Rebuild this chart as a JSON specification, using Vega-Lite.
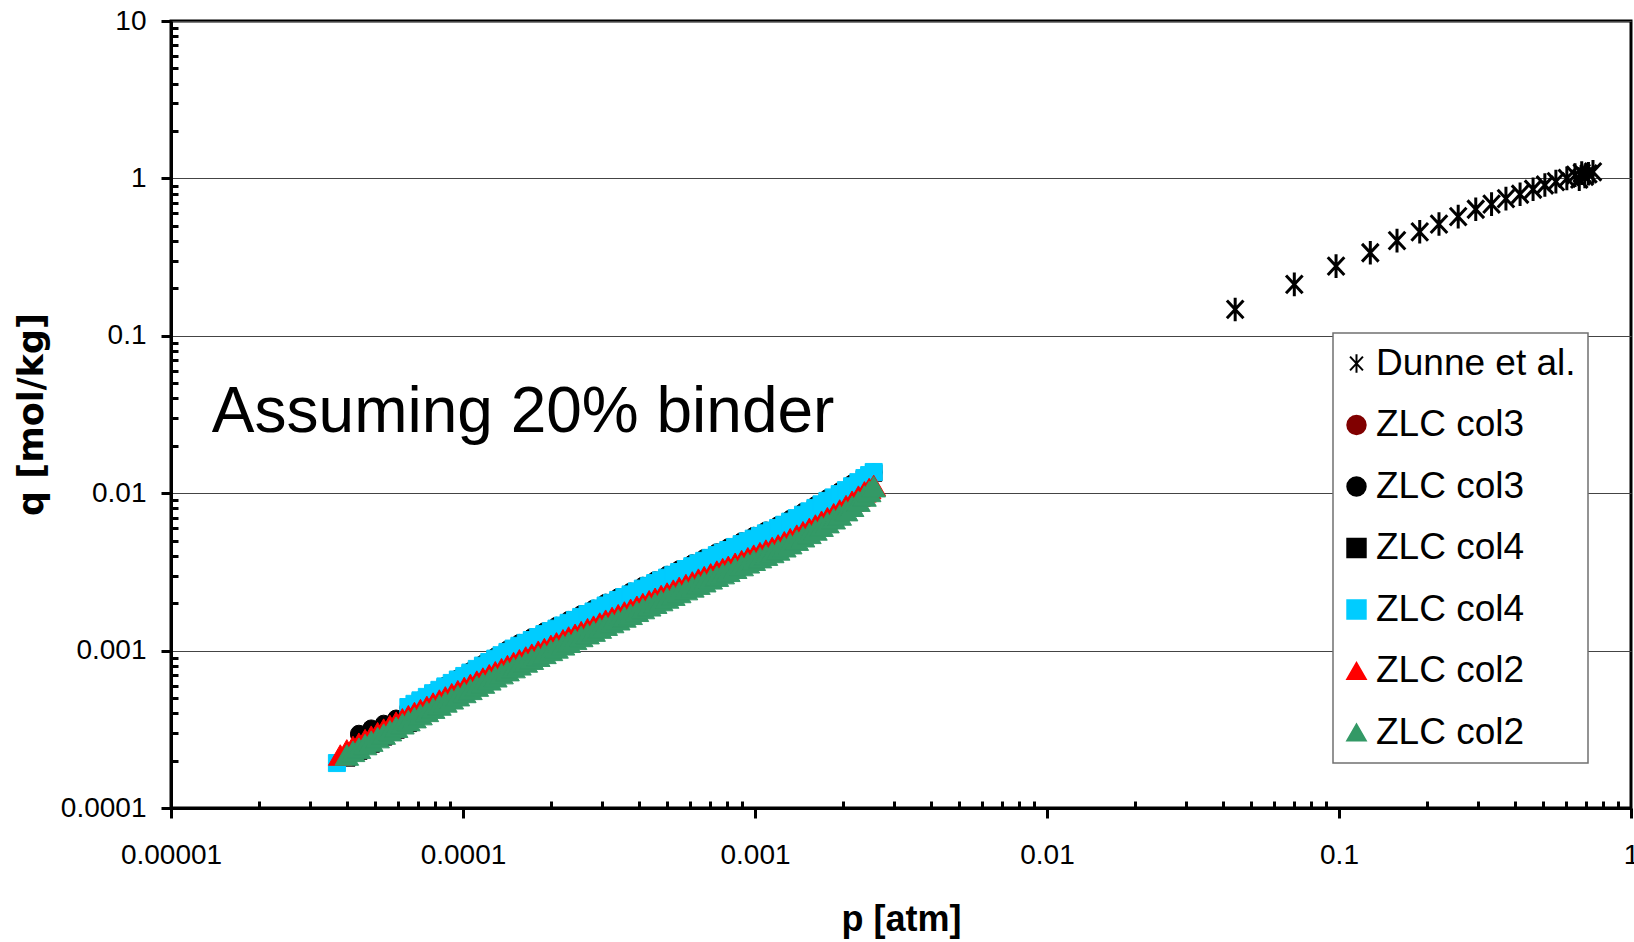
{
  "$schema": "https://vega.github.io/schema/vega-lite/v6.json",
  "width": 1460,
  "height": 787,
  "autosize": "none",
  "padding": {"left": 171, "top": 21, "right": 3, "bottom": 134},
  "background": "white",
  "config": {
    "view": {"stroke": "black", "strokeWidth": 3},
    "axis": {
      "domainColor": "black", "domainWidth": 3, "tickColor": "black", "tickWidth": 3,
      "labelFont": "Liberation Sans", "labelFontSize": 28, "labelColor": "black",
      "labelFlush": false, "labelOverlap": false, "labelBound": false
    },
    "legend": {
      "padding": 12,
      "fillColor": "white", "strokeColor": "#707070", "strokeWidth": 1.5,
      "labelFont": "Liberation Sans", "labelFontSize": 37, "labelColor": "black", "labelLimit": 400,
      "symbolSize": 340, "symbolStrokeWidth": 2, "rowPadding": 23.5, "labelOffset": 1, "symbolOffset": -7
    }
  },
  "resolve": {"axis": {"x": "independent", "y": "independent"}},
  "layer": [
    {
      "data": {"values": [
        {"s":"Dunne et al.","p":0.0441,"q":0.147},
        {"s":"Dunne et al.","p":0.0703,"q":0.212},
        {"s":"Dunne et al.","p":0.0977,"q":0.277},
        {"s":"Dunne et al.","p":0.128,"q":0.337},
        {"s":"Dunne et al.","p":0.158,"q":0.402},
        {"s":"Dunne et al.","p":0.189,"q":0.458},
        {"s":"Dunne et al.","p":0.220,"q":0.513},
        {"s":"Dunne et al.","p":0.256,"q":0.571},
        {"s":"Dunne et al.","p":0.294,"q":0.637},
        {"s":"Dunne et al.","p":0.333,"q":0.687},
        {"s":"Dunne et al.","p":0.373,"q":0.743},
        {"s":"Dunne et al.","p":0.417,"q":0.793},
        {"s":"Dunne et al.","p":0.462,"q":0.853},
        {"s":"Dunne et al.","p":0.507,"q":0.908},
        {"s":"Dunne et al.","p":0.553,"q":0.953},
        {"s":"Dunne et al.","p":0.603,"q":1.00},
        {"s":"Dunne et al.","p":0.643,"q":1.05},
        {"s":"Dunne et al.","p":0.665,"q":0.99},
        {"s":"Dunne et al.","p":0.678,"q":1.08},
        {"s":"Dunne et al.","p":0.695,"q":1.03},
        {"s":"Dunne et al.","p":0.715,"q":1.07},
        {"s":"Dunne et al.","p":0.741,"q":1.10},

        {"s":"ZLC col3 a","p":4.4e-5,"q":2.91e-4},
        {"s":"ZLC col3 a","p":4.85e-5,"q":3.15e-4},
        {"s":"ZLC col3 a","p":5.35e-5,"q":3.37e-4},
        {"s":"ZLC col3 a","p":5.9e-5,"q":3.64e-4},
        {"s":"ZLC col3 a","p":6.5e-5,"q":4.29e-4},
        {"s":"ZLC col3 a","p":7.9e-5,"q":5.30e-4},
        {"s":"ZLC col3 a","p":9.6e-5,"q":6.55e-4},
        {"s":"ZLC col3 a","p":1.17e-4,"q":8.10e-4},
        {"s":"ZLC col3 a","p":1.42e-4,"q":1.000e-3},
        {"s":"ZLC col3 a","p":1.72e-4,"q":1.196e-3},
        {"s":"ZLC col3 a","p":2.09e-4,"q":1.412e-3},
        {"s":"ZLC col3 a","p":2.54e-4,"q":1.676e-3},
        {"s":"ZLC col3 a","p":3.08e-4,"q":1.981e-3},
        {"s":"ZLC col3 a","p":3.75e-4,"q":2.329e-3},
        {"s":"ZLC col3 a","p":4.55e-4,"q":2.749e-3},
        {"s":"ZLC col3 a","p":5.5e-4,"q":3.233e-3},
        {"s":"ZLC col3 a","p":6.7e-4,"q":3.807e-3},
        {"s":"ZLC col3 a","p":8.1e-4,"q":4.456e-3},
        {"s":"ZLC col3 a","p":9.9e-4,"q":5.269e-3},
        {"s":"ZLC col3 a","p":1.2e-3,"q":6.157e-3},
        {"s":"ZLC col3 a","p":1.46e-3,"q":7.476e-3},
        {"s":"ZLC col3 a","p":1.77e-3,"q":9.146e-3},
        {"s":"ZLC col3 a","p":2.15e-3,"q":1.134e-2},
        {"s":"ZLC col3 a","p":2.37e-3,"q":1.25e-2},

        {"s":"ZLC col3 b","p":4.4e-5,"q":2.97e-4},
        {"s":"ZLC col3 b","p":4.85e-5,"q":3.21e-4},
        {"s":"ZLC col3 b","p":5.35e-5,"q":3.44e-4},
        {"s":"ZLC col3 b","p":5.9e-5,"q":3.71e-4},
        {"s":"ZLC col3 b","p":6.5e-5,"q":4.38e-4},
        {"s":"ZLC col3 b","p":7.15e-5,"q":4.85e-4},
        {"s":"ZLC col3 b","p":7.9e-5,"q":5.41e-4},
        {"s":"ZLC col3 b","p":8.7e-5,"q":6.01e-4},
        {"s":"ZLC col3 b","p":9.6e-5,"q":6.68e-4},
        {"s":"ZLC col3 b","p":1.06e-4,"q":7.43e-4},
        {"s":"ZLC col3 b","p":1.17e-4,"q":8.27e-4},
        {"s":"ZLC col3 b","p":1.29e-4,"q":9.20e-4},
        {"s":"ZLC col3 b","p":1.42e-4,"q":1.020e-3},
        {"s":"ZLC col3 b","p":1.56e-4,"q":1.121e-3},
        {"s":"ZLC col3 b","p":1.72e-4,"q":1.220e-3},
        {"s":"ZLC col3 b","p":1.9e-4,"q":1.329e-3},
        {"s":"ZLC col3 b","p":2.09e-4,"q":1.441e-3},
        {"s":"ZLC col3 b","p":2.3e-4,"q":1.569e-3},
        {"s":"ZLC col3 b","p":2.54e-4,"q":1.710e-3},
        {"s":"ZLC col3 b","p":2.8e-4,"q":1.852e-3},
        {"s":"ZLC col3 b","p":3.08e-4,"q":2.021e-3},
        {"s":"ZLC col3 b","p":3.4e-4,"q":2.192e-3},
        {"s":"ZLC col3 b","p":3.75e-4,"q":2.377e-3},
        {"s":"ZLC col3 b","p":4.13e-4,"q":2.588e-3},
        {"s":"ZLC col3 b","p":4.55e-4,"q":2.805e-3},
        {"s":"ZLC col3 b","p":5.0e-4,"q":3.038e-3},
        {"s":"ZLC col3 b","p":5.5e-4,"q":3.299e-3},
        {"s":"ZLC col3 b","p":6.1e-4,"q":3.592e-3},
        {"s":"ZLC col3 b","p":6.7e-4,"q":3.885e-3},
        {"s":"ZLC col3 b","p":7.4e-4,"q":4.224e-3},
        {"s":"ZLC col3 b","p":8.1e-4,"q":4.547e-3},
        {"s":"ZLC col3 b","p":9.0e-4,"q":4.961e-3},
        {"s":"ZLC col3 b","p":9.9e-4,"q":5.377e-3},
        {"s":"ZLC col3 b","p":1.09e-3,"q":5.809e-3},
        {"s":"ZLC col3 b","p":1.2e-3,"q":6.283e-3},
        {"s":"ZLC col3 b","p":1.32e-3,"q":6.893e-3},
        {"s":"ZLC col3 b","p":1.46e-3,"q":7.629e-3},
        {"s":"ZLC col3 b","p":1.61e-3,"q":8.422e-3},
        {"s":"ZLC col3 b","p":1.77e-3,"q":9.333e-3},
        {"s":"ZLC col3 b","p":1.95e-3,"q":1.031e-2},
        {"s":"ZLC col3 b","p":2.15e-3,"q":1.157e-2},
        {"s":"ZLC col3 b","p":2.37e-3,"q":1.273e-2},
        {"s":"ZLC col3 b","p":2.55e-3,"q":1.36e-2},

        {"s":"ZLC col4 a","p":4.0e-5,"q":2.08e-4},
        {"s":"ZLC col4 a","p":4.4e-5,"q":2.30e-4},
        {"s":"ZLC col4 a","p":4.85e-5,"q":2.55e-4},
        {"s":"ZLC col4 a","p":5.35e-5,"q":2.83e-4},
        {"s":"ZLC col4 a","p":5.9e-5,"q":3.13e-4},
        {"s":"ZLC col4 a","p":6.5e-5,"q":3.45e-4},
        {"s":"ZLC col4 a","p":7.15e-5,"q":4.76e-4},
        {"s":"ZLC col4 a","p":7.9e-5,"q":5.28e-4},
        {"s":"ZLC col4 a","p":8.7e-5,"q":5.83e-4},
        {"s":"ZLC col4 a","p":9.6e-5,"q":6.45e-4},
        {"s":"ZLC col4 a","p":1.06e-4,"q":7.14e-4},
        {"s":"ZLC col4 a","p":1.17e-4,"q":7.91e-4},
        {"s":"ZLC col4 a","p":1.29e-4,"q":8.76e-4},
        {"s":"ZLC col4 a","p":1.42e-4,"q":9.66e-4},
        {"s":"ZLC col4 a","p":1.56e-4,"q":1.057e-3},
        {"s":"ZLC col4 a","p":1.72e-4,"q":1.149e-3},
        {"s":"ZLC col4 a","p":1.9e-4,"q":1.253e-3},
        {"s":"ZLC col4 a","p":2.09e-4,"q":1.358e-3},
        {"s":"ZLC col4 a","p":2.3e-4,"q":1.478e-3},
        {"s":"ZLC col4 a","p":2.54e-4,"q":1.611e-3},
        {"s":"ZLC col4 a","p":2.8e-4,"q":1.745e-3},
        {"s":"ZLC col4 a","p":3.08e-4,"q":1.905e-3},
        {"s":"ZLC col4 a","p":3.4e-4,"q":2.067e-3},
        {"s":"ZLC col4 a","p":3.75e-4,"q":2.241e-3},
        {"s":"ZLC col4 a","p":4.13e-4,"q":2.440e-3},
        {"s":"ZLC col4 a","p":4.55e-4,"q":2.644e-3},
        {"s":"ZLC col4 a","p":5.0e-4,"q":2.863e-3},
        {"s":"ZLC col4 a","p":5.5e-4,"q":3.110e-3},
        {"s":"ZLC col4 a","p":6.1e-4,"q":3.385e-3},
        {"s":"ZLC col4 a","p":6.7e-4,"q":3.662e-3},
        {"s":"ZLC col4 a","p":7.4e-4,"q":3.981e-3},
        {"s":"ZLC col4 a","p":8.1e-4,"q":4.286e-3},
        {"s":"ZLC col4 a","p":9.0e-4,"q":4.676e-3},
        {"s":"ZLC col4 a","p":9.9e-4,"q":5.068e-3},
        {"s":"ZLC col4 a","p":1.09e-3,"q":5.476e-3},
        {"s":"ZLC col4 a","p":1.2e-3,"q":5.922e-3},
        {"s":"ZLC col4 a","p":1.32e-3,"q":6.497e-3},
        {"s":"ZLC col4 a","p":1.46e-3,"q":7.191e-3},
        {"s":"ZLC col4 a","p":1.61e-3,"q":7.938e-3},
        {"s":"ZLC col4 a","p":1.77e-3,"q":8.797e-3},
        {"s":"ZLC col4 a","p":1.95e-3,"q":9.717e-3},
        {"s":"ZLC col4 a","p":2.15e-3,"q":1.090e-2},
        {"s":"ZLC col4 a","p":2.37e-3,"q":1.229e-2},
        {"s":"ZLC col4 a","p":2.55e-3,"q":1.344e-2},

        {"s":"ZLC col4 b","p":3.7e-5,"q":1.93e-4},
        {"s":"ZLC col4 b","p":6.5e-5,"q":4.38e-4},
        {"s":"ZLC col4 b","p":6.82e-5,"q":4.59e-4},
        {"s":"ZLC col4 b","p":7.15e-5,"q":4.83e-4},
        {"s":"ZLC col4 b","p":7.52e-5,"q":5.08e-4},
        {"s":"ZLC col4 b","p":7.9e-5,"q":5.36e-4},
        {"s":"ZLC col4 b","p":8.3e-5,"q":5.63e-4},
        {"s":"ZLC col4 b","p":8.7e-5,"q":5.92e-4},
        {"s":"ZLC col4 b","p":9.15e-5,"q":6.23e-4},
        {"s":"ZLC col4 b","p":9.6e-5,"q":6.55e-4},
        {"s":"ZLC col4 b","p":1.01e-4,"q":6.90e-4},
        {"s":"ZLC col4 b","p":1.06e-4,"q":7.25e-4},
        {"s":"ZLC col4 b","p":1.115e-4,"q":7.65e-4},
        {"s":"ZLC col4 b","p":1.17e-4,"q":8.03e-4},
        {"s":"ZLC col4 b","p":1.23e-4,"q":8.46e-4},
        {"s":"ZLC col4 b","p":1.29e-4,"q":8.89e-4},
        {"s":"ZLC col4 b","p":1.355e-4,"q":9.35e-4},
        {"s":"ZLC col4 b","p":1.42e-4,"q":9.81e-4},
        {"s":"ZLC col4 b","p":1.49e-4,"q":1.030e-3},
        {"s":"ZLC col4 b","p":1.56e-4,"q":1.073e-3},
        {"s":"ZLC col4 b","p":1.64e-4,"q":1.120e-3},
        {"s":"ZLC col4 b","p":1.72e-4,"q":1.167e-3},
        {"s":"ZLC col4 b","p":1.81e-4,"q":1.219e-3},
        {"s":"ZLC col4 b","p":1.9e-4,"q":1.272e-3},
        {"s":"ZLC col4 b","p":2.0e-4,"q":1.329e-3},
        {"s":"ZLC col4 b","p":2.09e-4,"q":1.379e-3},
        {"s":"ZLC col4 b","p":2.2e-4,"q":1.444e-3},
        {"s":"ZLC col4 b","p":2.3e-4,"q":1.501e-3},
        {"s":"ZLC col4 b","p":2.42e-4,"q":1.567e-3},
        {"s":"ZLC col4 b","p":2.54e-4,"q":1.636e-3},
        {"s":"ZLC col4 b","p":2.67e-4,"q":1.705e-3},
        {"s":"ZLC col4 b","p":2.8e-4,"q":1.772e-3},
        {"s":"ZLC col4 b","p":2.94e-4,"q":1.853e-3},
        {"s":"ZLC col4 b","p":3.08e-4,"q":1.934e-3},
        {"s":"ZLC col4 b","p":3.24e-4,"q":2.013e-3},
        {"s":"ZLC col4 b","p":3.4e-4,"q":2.098e-3},
        {"s":"ZLC col4 b","p":3.57e-4,"q":2.187e-3},
        {"s":"ZLC col4 b","p":3.75e-4,"q":2.275e-3},
        {"s":"ZLC col4 b","p":3.94e-4,"q":2.379e-3},
        {"s":"ZLC col4 b","p":4.13e-4,"q":2.477e-3},
        {"s":"ZLC col4 b","p":4.34e-4,"q":2.581e-3},
        {"s":"ZLC col4 b","p":4.55e-4,"q":2.684e-3},
        {"s":"ZLC col4 b","p":4.77e-4,"q":2.796e-3},
        {"s":"ZLC col4 b","p":5.0e-4,"q":2.907e-3},
        {"s":"ZLC col4 b","p":5.25e-4,"q":3.033e-3},
        {"s":"ZLC col4 b","p":5.5e-4,"q":3.157e-3},
        {"s":"ZLC col4 b","p":5.8e-4,"q":3.298e-3},
        {"s":"ZLC col4 b","p":6.1e-4,"q":3.437e-3},
        {"s":"ZLC col4 b","p":6.4e-4,"q":3.581e-3},
        {"s":"ZLC col4 b","p":6.7e-4,"q":3.718e-3},
        {"s":"ZLC col4 b","p":7.05e-4,"q":3.883e-3},
        {"s":"ZLC col4 b","p":7.4e-4,"q":4.042e-3},
        {"s":"ZLC col4 b","p":7.75e-4,"q":4.200e-3},
        {"s":"ZLC col4 b","p":8.1e-4,"q":4.351e-3},
        {"s":"ZLC col4 b","p":8.55e-4,"q":4.556e-3},
        {"s":"ZLC col4 b","p":9.0e-4,"q":4.747e-3},
        {"s":"ZLC col4 b","p":9.45e-4,"q":4.948e-3},
        {"s":"ZLC col4 b","p":9.9e-4,"q":5.145e-3},
        {"s":"ZLC col4 b","p":1.04e-3,"q":5.353e-3},
        {"s":"ZLC col4 b","p":1.09e-3,"q":5.559e-3},
        {"s":"ZLC col4 b","p":1.145e-3,"q":5.789e-3},
        {"s":"ZLC col4 b","p":1.2e-3,"q":6.012e-3},
        {"s":"ZLC col4 b","p":1.26e-3,"q":6.304e-3},
        {"s":"ZLC col4 b","p":1.32e-3,"q":6.596e-3},
        {"s":"ZLC col4 b","p":1.39e-3,"q":6.944e-3},
        {"s":"ZLC col4 b","p":1.46e-3,"q":7.300e-3},
        {"s":"ZLC col4 b","p":1.535e-3,"q":7.669e-3},
        {"s":"ZLC col4 b","p":1.61e-3,"q":8.059e-3},
        {"s":"ZLC col4 b","p":1.69e-3,"q":8.501e-3},
        {"s":"ZLC col4 b","p":1.77e-3,"q":8.931e-3},
        {"s":"ZLC col4 b","p":1.86e-3,"q":9.401e-3},
        {"s":"ZLC col4 b","p":1.95e-3,"q":9.865e-3},
        {"s":"ZLC col4 b","p":2.05e-3,"q":1.046e-2},
        {"s":"ZLC col4 b","p":2.15e-3,"q":1.107e-2},
        {"s":"ZLC col4 b","p":2.26e-3,"q":1.175e-2},
        {"s":"ZLC col4 b","p":2.37e-3,"q":1.248e-2},
        {"s":"ZLC col4 b","p":2.46e-3,"q":1.303e-2},
        {"s":"ZLC col4 b","p":2.55e-3,"q":1.364e-2},

        {"s":"ZLC col2 a","p":3.8e-5,"q":2.17e-4},
        {"s":"ZLC col2 a","p":4.0e-5,"q":2.34e-4},
        {"s":"ZLC col2 a","p":4.2e-5,"q":2.46e-4},
        {"s":"ZLC col2 a","p":4.4e-5,"q":2.58e-4},
        {"s":"ZLC col2 a","p":4.62e-5,"q":2.72e-4},
        {"s":"ZLC col2 a","p":4.85e-5,"q":2.86e-4},
        {"s":"ZLC col2 a","p":5.1e-5,"q":3.01e-4},
        {"s":"ZLC col2 a","p":5.35e-5,"q":3.17e-4},
        {"s":"ZLC col2 a","p":5.62e-5,"q":3.34e-4},
        {"s":"ZLC col2 a","p":5.9e-5,"q":3.51e-4},
        {"s":"ZLC col2 a","p":6.2e-5,"q":3.69e-4},
        {"s":"ZLC col2 a","p":6.5e-5,"q":3.86e-4},
        {"s":"ZLC col2 a","p":6.82e-5,"q":4.04e-4},
        {"s":"ZLC col2 a","p":7.15e-5,"q":4.22e-4},
        {"s":"ZLC col2 a","p":7.52e-5,"q":4.42e-4},
        {"s":"ZLC col2 a","p":7.9e-5,"q":4.64e-4},
        {"s":"ZLC col2 a","p":8.3e-5,"q":4.85e-4},
        {"s":"ZLC col2 a","p":8.7e-5,"q":5.08e-4},
        {"s":"ZLC col2 a","p":9.15e-5,"q":5.32e-4},
        {"s":"ZLC col2 a","p":9.6e-5,"q":5.56e-4},
        {"s":"ZLC col2 a","p":1.01e-4,"q":5.83e-4},
        {"s":"ZLC col2 a","p":1.06e-4,"q":6.10e-4},
        {"s":"ZLC col2 a","p":1.115e-4,"q":6.40e-4},
        {"s":"ZLC col2 a","p":1.17e-4,"q":6.69e-4},
        {"s":"ZLC col2 a","p":1.23e-4,"q":7.02e-4},
        {"s":"ZLC col2 a","p":1.29e-4,"q":7.34e-4},
        {"s":"ZLC col2 a","p":1.355e-4,"q":7.68e-4},
        {"s":"ZLC col2 a","p":1.42e-4,"q":8.03e-4},
        {"s":"ZLC col2 a","p":1.49e-4,"q":8.39e-4},
        {"s":"ZLC col2 a","p":1.56e-4,"q":8.74e-4},
        {"s":"ZLC col2 a","p":1.64e-4,"q":9.11e-4},
        {"s":"ZLC col2 a","p":1.72e-4,"q":9.49e-4},
        {"s":"ZLC col2 a","p":1.81e-4,"q":9.91e-4},
        {"s":"ZLC col2 a","p":1.9e-4,"q":1.03e-3},
        {"s":"ZLC col2 a","p":2.0e-4,"q":1.079e-3},
        {"s":"ZLC col2 a","p":2.09e-4,"q":1.12e-3},
        {"s":"ZLC col2 a","p":2.2e-4,"q":1.171e-3},
        {"s":"ZLC col2 a","p":2.3e-4,"q":1.22e-3},
        {"s":"ZLC col2 a","p":2.42e-4,"q":1.269e-3},
        {"s":"ZLC col2 a","p":2.54e-4,"q":1.32e-3},
        {"s":"ZLC col2 a","p":2.67e-4,"q":1.378e-3},
        {"s":"ZLC col2 a","p":2.8e-4,"q":1.43e-3},
        {"s":"ZLC col2 a","p":2.94e-4,"q":1.496e-3},
        {"s":"ZLC col2 a","p":3.08e-4,"q":1.56e-3},
        {"s":"ZLC col2 a","p":3.24e-4,"q":1.623e-3},
        {"s":"ZLC col2 a","p":3.4e-4,"q":1.69e-3},
        {"s":"ZLC col2 a","p":3.57e-4,"q":1.760e-3},
        {"s":"ZLC col2 a","p":3.75e-4,"q":1.83e-3},
        {"s":"ZLC col2 a","p":3.94e-4,"q":1.912e-3},
        {"s":"ZLC col2 a","p":4.13e-4,"q":1.99e-3},
        {"s":"ZLC col2 a","p":4.34e-4,"q":2.072e-3},
        {"s":"ZLC col2 a","p":4.55e-4,"q":2.15e-3},
        {"s":"ZLC col2 a","p":4.77e-4,"q":2.238e-3},
        {"s":"ZLC col2 a","p":5.0e-4,"q":2.32e-3},
        {"s":"ZLC col2 a","p":5.25e-4,"q":2.421e-3},
        {"s":"ZLC col2 a","p":5.5e-4,"q":2.52e-3},
        {"s":"ZLC col2 a","p":5.8e-4,"q":2.627e-3},
        {"s":"ZLC col2 a","p":6.1e-4,"q":2.73e-3},
        {"s":"ZLC col2 a","p":6.4e-4,"q":2.844e-3},
        {"s":"ZLC col2 a","p":6.7e-4,"q":2.95e-3},
        {"s":"ZLC col2 a","p":7.05e-4,"q":3.074e-3},
        {"s":"ZLC col2 a","p":7.4e-4,"q":3.20e-3},
        {"s":"ZLC col2 a","p":7.75e-4,"q":3.318e-3},
        {"s":"ZLC col2 a","p":8.1e-4,"q":3.43e-3},
        {"s":"ZLC col2 a","p":8.55e-4,"q":3.588e-3},
        {"s":"ZLC col2 a","p":9.0e-4,"q":3.73e-3},
        {"s":"ZLC col2 a","p":9.45e-4,"q":3.887e-3},
        {"s":"ZLC col2 a","p":9.9e-4,"q":4.04e-3},
        {"s":"ZLC col2 a","p":1.04e-3,"q":4.192e-3},
        {"s":"ZLC col2 a","p":1.09e-3,"q":4.35e-3},
        {"s":"ZLC col2 a","p":1.145e-3,"q":4.520e-3},
        {"s":"ZLC col2 a","p":1.2e-3,"q":4.69e-3},
        {"s":"ZLC col2 a","p":1.26e-3,"q":4.915e-3},
        {"s":"ZLC col2 a","p":1.32e-3,"q":5.14e-3},
        {"s":"ZLC col2 a","p":1.39e-3,"q":5.414e-3},
        {"s":"ZLC col2 a","p":1.46e-3,"q":5.69e-3},
        {"s":"ZLC col2 a","p":1.535e-3,"q":5.979e-3},
        {"s":"ZLC col2 a","p":1.61e-3,"q":6.28e-3},
        {"s":"ZLC col2 a","p":1.69e-3,"q":6.638e-3},
        {"s":"ZLC col2 a","p":1.77e-3,"q":6.99e-3},
        {"s":"ZLC col2 a","p":1.86e-3,"q":7.405e-3},
        {"s":"ZLC col2 a","p":1.95e-3,"q":7.82e-3},
        {"s":"ZLC col2 a","p":2.05e-3,"q":8.338e-3},
        {"s":"ZLC col2 a","p":2.15e-3,"q":8.89e-3},
        {"s":"ZLC col2 a","p":2.26e-3,"q":9.581e-3},
        {"s":"ZLC col2 a","p":2.37e-3,"q":1.02e-2},
        {"s":"ZLC col2 a","p":2.46e-3,"q":1.07e-2},
        {"s":"ZLC col2 a","p":2.55e-3,"q":1.12e-2},

        {"s":"ZLC col2 b","p":4.0e-5,"q":2.17e-4},
        {"s":"ZLC col2 b","p":4.2e-5,"q":2.29e-4},
        {"s":"ZLC col2 b","p":4.4e-5,"q":2.40e-4},
        {"s":"ZLC col2 b","p":4.62e-5,"q":2.53e-4},
        {"s":"ZLC col2 b","p":4.85e-5,"q":2.66e-4},
        {"s":"ZLC col2 b","p":5.1e-5,"q":2.80e-4},
        {"s":"ZLC col2 b","p":5.35e-5,"q":2.95e-4},
        {"s":"ZLC col2 b","p":5.62e-5,"q":3.10e-4},
        {"s":"ZLC col2 b","p":5.9e-5,"q":3.26e-4},
        {"s":"ZLC col2 b","p":6.2e-5,"q":3.43e-4},
        {"s":"ZLC col2 b","p":6.5e-5,"q":3.59e-4},
        {"s":"ZLC col2 b","p":6.82e-5,"q":3.75e-4},
        {"s":"ZLC col2 b","p":7.15e-5,"q":3.92e-4},
        {"s":"ZLC col2 b","p":7.52e-5,"q":4.11e-4},
        {"s":"ZLC col2 b","p":7.9e-5,"q":4.31e-4},
        {"s":"ZLC col2 b","p":8.3e-5,"q":4.51e-4},
        {"s":"ZLC col2 b","p":8.7e-5,"q":4.72e-4},
        {"s":"ZLC col2 b","p":9.15e-5,"q":4.94e-4},
        {"s":"ZLC col2 b","p":9.6e-5,"q":5.17e-4},
        {"s":"ZLC col2 b","p":1.01e-4,"q":5.42e-4},
        {"s":"ZLC col2 b","p":1.06e-4,"q":5.67e-4},
        {"s":"ZLC col2 b","p":1.115e-4,"q":5.95e-4},
        {"s":"ZLC col2 b","p":1.17e-4,"q":6.22e-4},
        {"s":"ZLC col2 b","p":1.23e-4,"q":6.52e-4},
        {"s":"ZLC col2 b","p":1.29e-4,"q":6.82e-4},
        {"s":"ZLC col2 b","p":1.355e-4,"q":7.14e-4},
        {"s":"ZLC col2 b","p":1.42e-4,"q":7.46e-4},
        {"s":"ZLC col2 b","p":1.49e-4,"q":7.80e-4},
        {"s":"ZLC col2 b","p":1.56e-4,"q":8.12e-4},
        {"s":"ZLC col2 b","p":1.64e-4,"q":8.47e-4},
        {"s":"ZLC col2 b","p":1.72e-4,"q":8.82e-4},
        {"s":"ZLC col2 b","p":1.81e-4,"q":9.21e-4},
        {"s":"ZLC col2 b","p":1.9e-4,"q":9.60e-4},
        {"s":"ZLC col2 b","p":2.0e-4,"q":1.003e-3},
        {"s":"ZLC col2 b","p":2.09e-4,"q":1.04e-3},
        {"s":"ZLC col2 b","p":2.2e-4,"q":1.088e-3},
        {"s":"ZLC col2 b","p":2.3e-4,"q":1.13e-3},
        {"s":"ZLC col2 b","p":2.42e-4,"q":1.179e-3},
        {"s":"ZLC col2 b","p":2.54e-4,"q":1.23e-3},
        {"s":"ZLC col2 b","p":2.67e-4,"q":1.281e-3},
        {"s":"ZLC col2 b","p":2.8e-4,"q":1.33e-3},
        {"s":"ZLC col2 b","p":2.94e-4,"q":1.390e-3},
        {"s":"ZLC col2 b","p":3.08e-4,"q":1.45e-3},
        {"s":"ZLC col2 b","p":3.24e-4,"q":1.508e-3},
        {"s":"ZLC col2 b","p":3.4e-4,"q":1.57e-3},
        {"s":"ZLC col2 b","p":3.57e-4,"q":1.636e-3},
        {"s":"ZLC col2 b","p":3.75e-4,"q":1.70e-3},
        {"s":"ZLC col2 b","p":3.94e-4,"q":1.777e-3},
        {"s":"ZLC col2 b","p":4.13e-4,"q":1.85e-3},
        {"s":"ZLC col2 b","p":4.34e-4,"q":1.926e-3},
        {"s":"ZLC col2 b","p":4.55e-4,"q":2.00e-3},
        {"s":"ZLC col2 b","p":4.77e-4,"q":2.080e-3},
        {"s":"ZLC col2 b","p":5.0e-4,"q":2.16e-3},
        {"s":"ZLC col2 b","p":5.25e-4,"q":2.250e-3},
        {"s":"ZLC col2 b","p":5.5e-4,"q":2.34e-3},
        {"s":"ZLC col2 b","p":5.8e-4,"q":2.441e-3},
        {"s":"ZLC col2 b","p":6.1e-4,"q":2.54e-3},
        {"s":"ZLC col2 b","p":6.4e-4,"q":2.643e-3},
        {"s":"ZLC col2 b","p":6.7e-4,"q":2.74e-3},
        {"s":"ZLC col2 b","p":7.05e-4,"q":2.857e-3},
        {"s":"ZLC col2 b","p":7.4e-4,"q":2.97e-3},
        {"s":"ZLC col2 b","p":7.75e-4,"q":3.084e-3},
        {"s":"ZLC col2 b","p":8.1e-4,"q":3.19e-3},
        {"s":"ZLC col2 b","p":8.55e-4,"q":3.335e-3},
        {"s":"ZLC col2 b","p":9.0e-4,"q":3.47e-3},
        {"s":"ZLC col2 b","p":9.45e-4,"q":3.612e-3},
        {"s":"ZLC col2 b","p":9.9e-4,"q":3.75e-3},
        {"s":"ZLC col2 b","p":1.04e-3,"q":3.896e-3},
        {"s":"ZLC col2 b","p":1.09e-3,"q":4.04e-3},
        {"s":"ZLC col2 b","p":1.145e-3,"q":4.201e-3},
        {"s":"ZLC col2 b","p":1.2e-3,"q":4.36e-3},
        {"s":"ZLC col2 b","p":1.26e-3,"q":4.568e-3},
        {"s":"ZLC col2 b","p":1.32e-3,"q":4.78e-3},
        {"s":"ZLC col2 b","p":1.39e-3,"q":5.032e-3},
        {"s":"ZLC col2 b","p":1.46e-3,"q":5.29e-3},
        {"s":"ZLC col2 b","p":1.535e-3,"q":5.557e-3},
        {"s":"ZLC col2 b","p":1.61e-3,"q":5.84e-3},
        {"s":"ZLC col2 b","p":1.69e-3,"q":6.169e-3},
        {"s":"ZLC col2 b","p":1.77e-3,"q":6.50e-3},
        {"s":"ZLC col2 b","p":1.86e-3,"q":6.882e-3},
        {"s":"ZLC col2 b","p":1.95e-3,"q":7.27e-3},
        {"s":"ZLC col2 b","p":2.05e-3,"q":7.749e-3},
        {"s":"ZLC col2 b","p":2.15e-3,"q":8.26e-3},
        {"s":"ZLC col2 b","p":2.26e-3,"q":8.904e-3},
        {"s":"ZLC col2 b","p":2.37e-3,"q":9.60e-3},
        {"s":"ZLC col2 b","p":2.46e-3,"q":1.026e-2},
        {"s":"ZLC col2 b","p":2.55e-3,"q":1.10e-2}
      ]},
      "mark": {"type": "point", "filled": true, "opacity": 1, "fillOpacity": 1, "strokeOpacity": 1},
      "encoding": {
        "x": {
          "field": "p", "type": "quantitative",
          "scale": {"type": "log", "domain": [0.00001, 1], "nice": false, "zero": false},
          "axis": {
            "orient": "bottom",
            "title": "p [atm]", "titleFont": "Liberation Sans", "titleFontSize": 36, "titleFontWeight": "bold", "titleColor": "black",
            "titleX": 730, "titleY": 122, "titleAlign": "center", "titleBaseline": "alphabetic", "titleAngle": 0,
            "grid": false,
            "values": [0.00001, 0.0001, 0.001, 0.01, 0.1, 1],
            "format": "~f",
            "tickSize": 10,
            "labelPadding": 23
          }
        },
        "y": {
          "field": "q", "type": "quantitative",
          "scale": {"type": "log", "domain": [0.0001, 10], "nice": false, "zero": false},
          "axis": {
            "orient": "left",
            "title": "q [mol/kg]", "titleFont": "DejaVu Sans", "titleFontSize": 35, "titleFontWeight": "bold", "titleColor": "black",
            "titleX": -129, "titleY": 393, "titleAlign": "center", "titleBaseline": "alphabetic", "titleAngle": -90,
            "grid": true, "gridColor": "#444444", "gridWidth": 1,
            "values": [0.0001, 0.001, 0.01, 0.1, 1, 10],
            "format": "~f",
            "tickSize": 10,
            "labelPadding": 15
          }
        },
        "fill": {
          "field": "s", "type": "nominal",
          "scale": {"domain": ["Dunne et al.","ZLC col3 a","ZLC col3 b","ZLC col4 a","ZLC col4 b","ZLC col2 a","ZLC col2 b"],
                    "range": ["#000000","#800000","#000000","#000000","#00CCFF","#FF0000","#339966"]},
          "legend": {"title": null, "orient": "none", "legendX": 1162, "legendY": 312,
                     "labelExpr": "datum.label == 'Dunne et al.' ? datum.label : substring(datum.label, 0, 8)"}
        },
        "stroke": {
          "field": "s", "type": "nominal",
          "scale": {"domain": ["Dunne et al.","ZLC col3 a","ZLC col3 b","ZLC col4 a","ZLC col4 b","ZLC col2 a","ZLC col2 b"],
                    "range": ["#000000","#800000","#000000","#000000","#00CCFF","#FF0000","#339966"]},
          "legend": {"title": null, "orient": "none", "legendX": 1162, "legendY": 312,
                     "labelExpr": "datum.label == 'Dunne et al.' ? datum.label : substring(datum.label, 0, 8)"}
        },
        "shape": {
          "field": "s", "type": "nominal",
          "scale": {"domain": ["Dunne et al.","ZLC col3 a","ZLC col3 b","ZLC col4 a","ZLC col4 b","ZLC col2 a","ZLC col2 b"],
                    "range": ["M0,-1L0,1M-0.7,-0.75L0.7,0.75M-0.7,0.75L0.7,-0.75","circle","circle","square","square","triangle-up","triangle-up"]},
          "legend": {"title": null, "orient": "none", "legendX": 1162, "legendY": 312,
                     "labelExpr": "datum.label == 'Dunne et al.' ? datum.label : substring(datum.label, 0, 8)"}
        },
        "size": {
          "field": "s", "type": "nominal",
          "scale": {"type": "ordinal", "domain": ["Dunne et al.","ZLC col2 a","ZLC col2 b","ZLC col3 a","ZLC col3 b","ZLC col4 a","ZLC col4 b"],
                    "range": [560, 560, 560, 280, 280, 270, 290]},
          "legend": null
        },
        "strokeWidth": {
          "field": "s", "type": "nominal",
          "scale": {"type": "ordinal", "domain": ["ZLC col2 b","ZLC col2 a","ZLC col4 b","ZLC col4 a","ZLC col3 b","ZLC col3 a","Dunne et al."],
                    "range": [1, 1, 1, 1, 1, 1, 3]},
          "legend": null
        }
      }
    },
    {
      "data": {"values": [{"p": 0.0000138, "q": 0.0245, "t": "Assuming 20% binder"}]},
      "mark": {"type": "text", "font": "Liberation Sans", "fontSize": 64, "align": "left", "baseline": "alphabetic", "color": "black"},
      "encoding": {
        "x": {
          "field": "p", "type": "quantitative",
          "axis": {
            "orient": "bottom", "title": null, "labels": false, "domain": false, "grid": false,
            "tickSize": -7,
            "values": [0.00002,0.00003,0.00004,0.00005,0.00006,0.00007,0.00008,0.00009,
                       0.0002,0.0003,0.0004,0.0005,0.0006,0.0007,0.0008,0.0009,
                       0.002,0.003,0.004,0.005,0.006,0.007,0.008,0.009,
                       0.02,0.03,0.04,0.05,0.06,0.07,0.08,0.09,
                       0.2,0.3,0.4,0.5,0.6,0.7,0.8,0.9]
          }
        },
        "y": {
          "field": "q", "type": "quantitative",
          "axis": {
            "orient": "left", "title": null, "labels": false, "domain": false, "grid": false,
            "tickSize": -7,
            "values": [0.0002,0.0003,0.0004,0.0005,0.0006,0.0007,0.0008,0.0009,
                       0.002,0.003,0.004,0.005,0.006,0.007,0.008,0.009,
                       0.02,0.03,0.04,0.05,0.06,0.07,0.08,0.09,
                       0.2,0.3,0.4,0.5,0.6,0.7,0.8,0.9,
                       2,3,4,5,6,7,8,9]
          }
        },
        "text": {"field": "t", "type": "nominal"}
      }
    }
  ]
}
